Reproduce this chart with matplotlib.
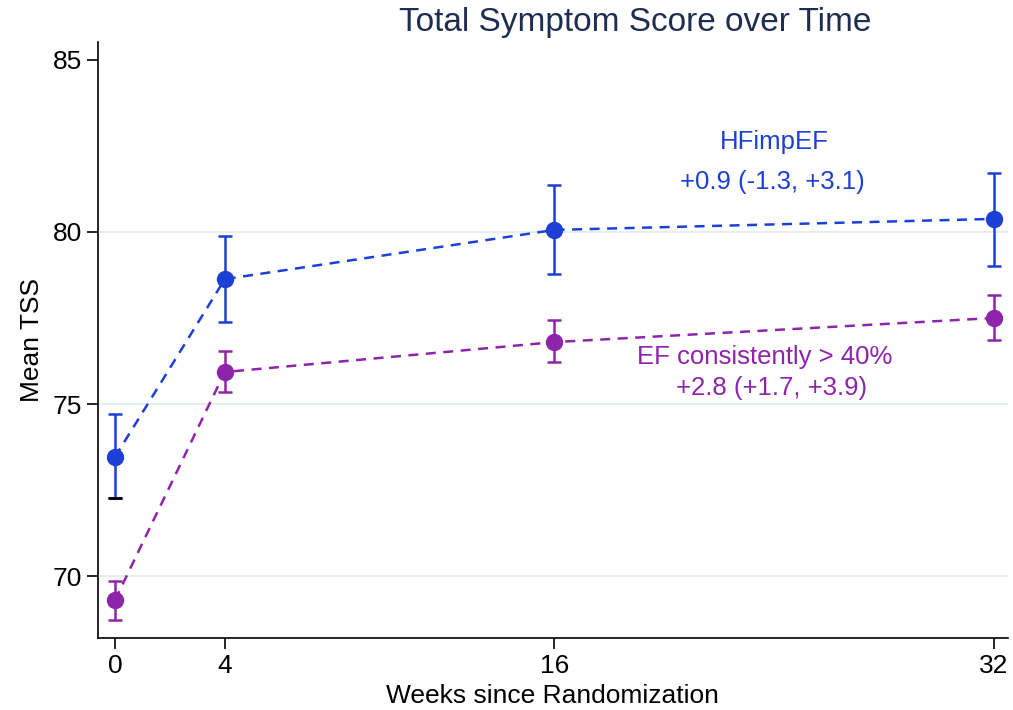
import numpy as np
import matplotlib
matplotlib.use("Agg")
import matplotlib.pyplot as plt

plt.rcParams["font.family"] = ["Liberation Sans", "DejaVu Sans"]

weeks = [0, 4, 16, 32]

hf_mean = [73.46, 78.63, 80.06, 80.38]
hf_lo = [72.27, 77.38, 78.78, 79.01]
hf_hi = [74.71, 79.88, 81.37, 81.72]

ef_mean = [69.30, 75.93, 76.80, 77.50]
ef_lo = [68.72, 75.35, 76.22, 76.86]
ef_hi = [69.85, 76.54, 77.44, 78.17]

yticks = [70, 75, 80, 85]
grid_y = [70, 75, 80]

blue = "#1c3fd6"
purple = "#8e24aa"

fig = plt.figure(figsize=(10.13, 7.10), dpi=100)
ax = fig.add_axes([0.0967, 0.1014, 0.898, 0.8394])

for g in grid_y:
    ax.axhline(g, color="#e6edf1", lw=1.5, zorder=0)


def draw_series(mean, lo, hi, color):
    m = np.array(mean)
    yerr = [m - np.array(lo), np.array(hi) - m]
    ax.errorbar(weeks, mean, yerr=yerr, fmt="none", ecolor=color, elinewidth=1.8,
                capsize=5, capthick=1.8, zorder=2)
    ax.plot(weeks, mean, ls=(0, (4, 3)), color=color, lw=1.8, zorder=3)
    ax.plot(weeks, mean, "o", color=color, ms=11.5, zorder=4)


draw_series(hf_mean, hf_lo, hf_hi, blue)
draw_series(ef_mean, ef_lo, ef_hi, purple)
# lower cap of the first blue bar appears black in the original
ax.plot([0], [hf_lo[0]], marker="_", ms=10, mew=2.0, color="black", zorder=5)

ax.text(24.0, 82.62, "HFimpEF", color=blue, fontsize=18.5, ha="center", va="center")
ax.text(23.93, 81.45, "+0.9 (-1.3, +3.1)", color=blue, fontsize=18.5, ha="center", va="center")
ax.text(23.64, 76.37, "EF consistently > 40%", color=purple, fontsize=18.5, ha="center", va="center")
ax.text(23.9, 75.47, "+2.8 (+1.7, +3.9)", color=purple, fontsize=18.5, ha="center", va="center")

ax.set_xlim(-0.62, 32.5)
ax.set_ylim(68.2, 85.52)
ax.set_xticks(weeks)
ax.set_yticks(yticks)
ax.tick_params(labelsize=19, length=8, width=1.2)
ax.spines["top"].set_visible(False)
ax.spines["right"].set_visible(False)
ax.spines["left"].set_linewidth(1.2)
ax.spines["bottom"].set_linewidth(1.2)

# tick marks at 70 and 80 take the series colours in the original
ytk = ax.yaxis.get_major_ticks()
ytk[0].tick1line.set_color(purple)
ytk[2].tick1line.set_color(blue)

ax.set_xlabel("Weeks since Randomization", fontsize=19, labelpad=4)
ax.set_ylabel("Mean TSS", fontsize=19, labelpad=6)
fig.text(635 / 1013, 1 - 22 / 710, "Total Symptom Score over Time", fontsize=24,
         color="#1f2d4f", ha="center", va="center")

fig.savefig("out.png", dpi=100)
